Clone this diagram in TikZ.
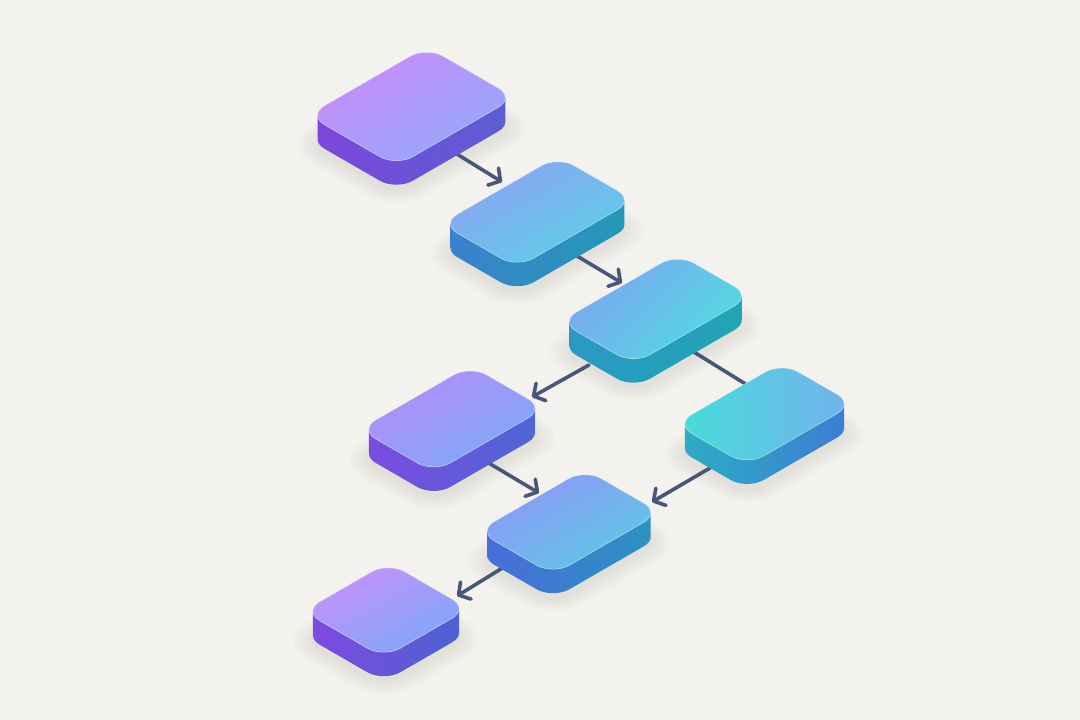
\documentclass[tikz,border=0pt]{standalone}
\usetikzlibrary{arrows.meta}
\definecolor{bg}{HTML}{F3F2EE}
\definecolor{arrowc}{HTML}{4A5677}
\definecolor{shadowc}{HTML}{6E6A60}
% tile colours: top-face start/end, side left/right
\definecolor{t1top}{HTML}{C98CF9}\definecolor{t1bot}{HTML}{93A9FA}\definecolor{t1sl}{HTML}{7C47DC}\definecolor{t1sr}{HTML}{5B5ED2}
\definecolor{t2top}{HTML}{8EA2F5}\definecolor{t2bot}{HTML}{5BD0E6}\definecolor{t2sl}{HTML}{3A82CB}\definecolor{t2sr}{HTML}{2399B8}
\definecolor{t3top}{HTML}{7DA6F1}\definecolor{t3bot}{HTML}{4FDCE0}\definecolor{t3sl}{HTML}{2B98C4}\definecolor{t3sr}{HTML}{22A4B5}
\definecolor{t4top}{HTML}{B48CF9}\definecolor{t4bot}{HTML}{7CAAF8}\definecolor{t4sl}{HTML}{7B4CE0}\definecolor{t4sr}{HTML}{4E66D3}
\definecolor{t5top}{HTML}{48DCD9}\definecolor{t5bot}{HTML}{72B2EE}\definecolor{t5sl}{HTML}{2CACC3}\definecolor{t5sr}{HTML}{3C7ED4}
\definecolor{t6top}{HTML}{8D98F6}\definecolor{t6bot}{HTML}{5EC9E7}\definecolor{t6sl}{HTML}{4A6CD9}\definecolor{t6sr}{HTML}{2A93C1}
\definecolor{t7top}{HTML}{C592F9}\definecolor{t7bot}{HTML}{7EA8F9}\definecolor{t7sl}{HTML}{7E4AE0}\definecolor{t7sr}{HTML}{4C62D2}
\tikzset{
  conn/.style={draw=arrowc, line width=3.6pt, line cap=round,
    -{Straight Barb[length=8.5pt,width=20pt,round]}},
  plainconn/.style={draw=arrowc, line width=3.6pt, line cap=round},
  isoframe/.style={cm={0.866,0.5,0.866,-0.5,(#1)}}
}
\def\hh{24}\def\rr{19}
% rounded rectangle in local (isometric) frame: half sizes #1,#2, radius #3, offset #4,#5
\newcommand{\rrpath}[5]{%
  (#4-#1+#3,#5-#2) -- (#4+#1-#3,#5-#2) arc[start angle=-90,end angle=0,radius=#3]
  -- (#4+#1,#5+#2-#3) arc[start angle=0,end angle=90,radius=#3]
  -- (#4-#1+#3,#5+#2) arc[start angle=90,end angle=180,radius=#3]
  -- (#4-#1,#5-#2+#3) arc[start angle=180,end angle=270,radius=#3] -- cycle}
% shadow of a slab: name, cx, cy (screen px), a, b
\newcommand{\slabshadow}[5]{%
  \pgfmathsetmacro\hA{#4/2}\pgfmathsetmacro\hB{#5/2}%
  \begin{scope}[isoframe={#2,720-#3}]
    \foreach \e in {16,12,8,4,1}{%
      \pgfmathsetmacro\eA{\hA+\e}\pgfmathsetmacro\eB{\hB+\e}\pgfmathsetmacro\er{\rr+\e}%
      \pgfmathsetmacro\sx{-\hh-6}\pgfmathsetmacro\sy{\hh+6}%
      \fill[shadowc,opacity=0.022] \rrpath{\eA}{\eB}{\er}{\sx}{\sy};
    }
  \end{scope}}
% slab: name, cx, cy (screen px), a, b, shading angle of top face
\newcommand{\slab}[6]{%
  \pgfmathsetmacro\hA{#4/2}\pgfmathsetmacro\hB{#5/2}%
  \pgfmathsetmacro\pa{-\hA+\rr-0.7071*\rr}\pgfmathsetmacro\pb{-\hB+\rr-0.7071*\rr}%
  \coordinate (#1) at (#2,720-#3);
  \begin{scope}[isoframe={#2,720-#3}]
    \shade[left color=#1sl, right color=#1sr]
      (\pa,\pb) arc[start angle=225,end angle=180,radius=\rr]
      -- (-\hA,\hB-\rr) arc[start angle=180,end angle=90,radius=\rr]
      -- (\hA-\rr,\hB) arc[start angle=90,end angle=45,radius=\rr]
      -- ++(-\hh,\hh) arc[start angle=45,end angle=90,radius=\rr]
      -- (-\hA+\rr-\hh,\hB+\hh) arc[start angle=90,end angle=180,radius=\rr]
      -- (-\hA-\hh,-\hB+\rr+\hh) arc[start angle=180,end angle=225,radius=\rr]
      -- cycle;
    \shade[top color=#1top, bottom color=#1bot, shading angle=#6]
      \rrpath{\hA}{\hB}{\rr}{0}{0};
    \draw[white,opacity=0.35,line width=0.8pt] \rrpath{\hA}{\hB}{\rr}{0}{0};
  \end{scope}}
\begin{document}
\begin{tikzpicture}[x=1pt,y=1pt]
\fill[bg] (0,0) rectangle (1080,720);
\useasboundingbox (0,0) rectangle (1080,720);
% shadows
\slabshadow{t1}{411.5}{106.5}{137}{102}
\slabshadow{t2}{537.5}{212}{135}{88}
\slabshadow{t3}{655.5}{309}{136}{85}
\slabshadow{t4}{452}{419}{128}{86}
\slabshadow{t5}{764.5}{414}{123}{83}
\slabshadow{t6}{569}{522}{124}{87}
\slabshadow{t7}{386}{610}{98}{93}
% connector end points
\coordinate (a1s) at (452,569); \coordinate (a1e) at (502,538);
\coordinate (a2s) at (572,467); \coordinate (a2e) at (622,437);
\coordinate (a3s) at (589,355); \coordinate (a3e) at (532,323);
\coordinate (a4s) at (689,371); \coordinate (a4e) at (752,332);
\coordinate (a5s) at (487,258); \coordinate (a5e) at (539,227);
\coordinate (a6s) at (710,252); \coordinate (a6e) at (652,218);
\coordinate (a7s) at (504,153); \coordinate (a7e) at (457,124);
\draw[conn] (a1s) -- (a1e);
\draw[conn] (a2s) -- (a2e);
\draw[conn] (a3s) -- (a3e);
\draw[plainconn] (a4s) -- (a4e);
\draw[conn] (a5s) -- (a5e);
\draw[conn] (a6s) -- (a6e);
\draw[conn] (a7s) -- (a7e);
% slabs
\slab{t1}{411.5}{106.5}{137}{102}{30}
\slab{t2}{537.5}{212}{135}{88}{30}
\slab{t3}{655.5}{309}{136}{85}{45}
\slab{t4}{452}{419}{128}{86}{30}
\slab{t5}{764.5}{414}{123}{83}{90}
\slab{t6}{569}{522}{124}{87}{30}
\slab{t7}{386}{610}{98}{93}{30}
\end{tikzpicture}
\end{document}
